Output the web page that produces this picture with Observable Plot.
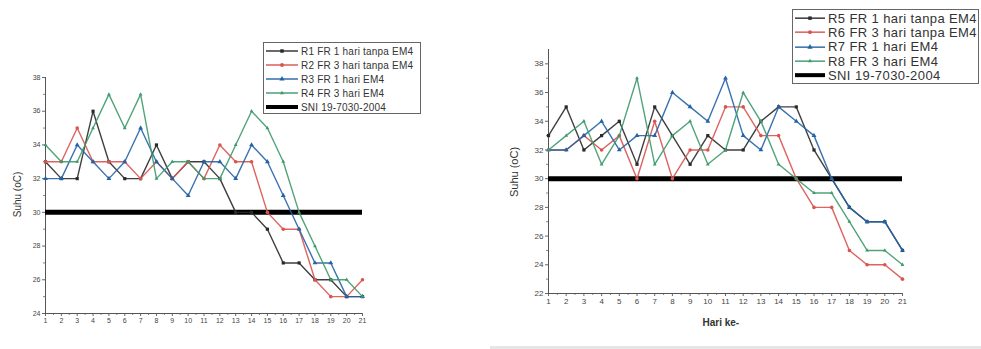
<!DOCTYPE html>
<html>
<head>
<meta charset="utf-8">
<script src="https://cdn.jsdelivr.net/npm/d3@7"></script>
<script src="https://cdn.jsdelivr.net/npm/@observablehq/plot@0.6"></script>
<style>
  html, body { margin: 0; padding: 0; background: #fff; }
  #wrap { position: relative; width: 981px; height: 349px; overflow: hidden; font-family: "Liberation Sans", Arial, sans-serif; }
  .panel { position: absolute; top: 0; }
  .legend { position: absolute; border: 1px solid #666; background: #fff; box-sizing: border-box; }
  .legend .row { display: flex; align-items: center; white-space: nowrap; color: #333; }
  .ylab { position: absolute; transform: rotate(-90deg); transform-origin: center; color: #333; white-space: nowrap; }
  .xlab { position: absolute; color: #333; white-space: nowrap; }
</style>
</head>
<body>
<div id="wrap"></div>
<script>
// ---- data ----
const days = [1,2,3,4,5,6,7,8,9,10,11,12,13,14,15,16,17,18,19,20,21];
const sniValue = 30;
const sniLabel = "SNI 19-7030-2004";

const leftNames  = ["R1 FR 1 hari tanpa EM4", "R2 FR 3 hari tanpa EM4", "R3 FR 1 hari EM4", "R4 FR 3 hari EM4"];
const r1 = [33,32,32,36,33,32,32,34,32,33,33,32,30,30,29,27,27,26,26,25,25];
const r2 = [33,33,35,33,33,33,32,33,32,33,32,34,33,33,30,29,29,26,25,25,26];
const r3 = [32,32,34,33,32,33,35,33,32,31,33,33,32,34,33,31,29,27,27,25,25];
const r4 = [34,33,33,35,37,35,37,32,33,33,32,32,34,36,35,33,30,28,26,26,25];

const rightNames = ["R5 FR 1 hari tanpa EM4", "R6 FR 3 hari tanpa EM4", "R7 FR 1 hari EM4", "R8 FR 3 hari EM4"];
const r5 = [33,35,32,33,34,31,35,33,31,33,32,32,34,35,35,32,30,28,27,27,25];
const r6 = [32,32,33,32,33,30,34,30,32,32,35,35,33,33,30,28,28,25,24,24,23];
const r7 = [32,32,33,34,32,33,33,36,35,34,37,33,32,35,34,33,30,28,27,27,25];
const r8 = [32,33,34,31,33,37,31,33,34,31,32,36,34,31,30,29,29,27,25,25,24];

const yTitle = "Suhu (oC)";
const xTitle = "Hari ke-";

// ---- styles ----
const colors = ["#2a2a2a", "#d9534f", "#2563a6", "#3d9a6c"];
const symbols = ["square", "circle", "triangle", "triangle2"];

function rows(values, name) {
  return days.map((d, i) => ({day: d, temp: values[i], name}));
}

function panel(opts) {
  const {seriesVals, names, yDomain, yTicks, width, height, mt, mb, ml, mr, fs} = opts;
  const marks = [];
  marks.push(Plot.ruleX([1], {y1: yDomain[0], y2: yDomain[1], stroke: "#555", strokeWidth: 1}));
  marks.push(Plot.ruleY([yDomain[0]], {x1: 1, x2: 21, stroke: "#555", strokeWidth: 1}));
  marks.push(Plot.ruleY([sniValue], {x1: days[0], x2: days[days.length - 1], stroke: "#000", strokeWidth: 5}));
  seriesVals.forEach((vals, k) => {
    const data = rows(vals, names[k]);
    marks.push(Plot.line(data, {x: "day", y: "temp", stroke: colors[k], strokeWidth: 1.4, strokeOpacity: 0.9}));
    marks.push(Plot.dot(data, {x: "day", y: "temp", fill: colors[k], stroke: "none", symbol: () => symbols[k], r: 1.8}));
  });
  return Plot.plot({
    width, height,
    marginTop: mt, marginBottom: mb, marginLeft: ml, marginRight: mr,
    style: {fontFamily: "Liberation Sans, Arial, sans-serif", background: "transparent"},
    x: {domain: [1, 21], axis: null},
    y: {domain: yDomain, axis: null},
    marks: [
      Plot.axisX({ticks: days, tickFormat: d => String(d), tickSize: 3, tickPadding: 2, fontSize: fs, stroke: "#666", fill: "#444", label: null}),
      Plot.axisX({ticks: days.slice(0, -1).map(d => d + 0.5), tickFormat: () => "", tickSize: 2, stroke: "#888", label: null}),
      Plot.axisY({ticks: yTicks, tickFormat: d => String(d), tickSize: 3, tickPadding: 2, fontSize: fs, stroke: "#666", fill: "#444", label: null}),
      Plot.axisY({ticks: yTicks.slice(0, -1).map(d => d + 1), tickFormat: () => "", tickSize: 2, stroke: "#888", label: null}),
      ...marks
    ]
  });
}

const wrap = document.getElementById("wrap");

function place(el, left, top) {
  el.classList.add("panel");
  el.style.left = left + "px";
  el.style.top = top + "px";
  wrap.appendChild(el);
}

const left = panel({
  seriesVals: [r1, r2, r3, r4], names: leftNames,
  yDomain: [24, 38], yTicks: [24,26,28,30,32,34,36,38],
  width: 390, height: 349, mt: 77, mb: 36, ml: 45, mr: 28, fs: 7
});
place(left, 0, 0);

const right = panel({
  seriesVals: [r5, r6, r7, r8], names: rightNames,
  yDomain: [22, 39], yTicks: [22,24,26,28,30,32,34,36,38],
  width: 491, height: 349, mt: 49, mb: 56, ml: 58, mr: 79, fs: 8
});
place(right, 490, 0);

function legend(names, x, y, w, h, rowH, fontSize, sampleW, pad, ls) {
  const box = document.createElement("div");
  box.className = "legend";
  Object.assign(box.style, {left: x + "px", top: y + "px", width: w + "px", height: h + "px", paddingTop: pad + "px", paddingLeft: "2px"});
  const all = names.map((n, k) => ({n, k})).concat([{n: sniLabel, k: -1}]);
  all.forEach(({n, k}) => {
    const row = document.createElement("div");
    row.className = "row";
    row.style.height = rowH + "px";
    row.style.fontSize = fontSize + "px";
    row.style.letterSpacing = ls + "px";
    const svg = d3.create("svg").attr("width", sampleW).attr("height", rowH).style("margin-right", "3px").style("flex", "none");
    if (k >= 0) {
      svg.append("line").attr("x1", 0).attr("x2", sampleW).attr("y1", rowH / 2).attr("y2", rowH / 2).attr("stroke", colors[k]).attr("stroke-width", 1.4);
      svg.append("path").attr("d", d3.symbol(k === 0 ? d3.symbolSquare : k === 1 ? d3.symbolCircle : k === 2 ? d3.symbolTriangle : d3.symbolTriangle2, 12)()).attr("transform", `translate(${sampleW / 2},${rowH / 2})`).attr("fill", colors[k]);
    } else {
      svg.append("line").attr("x1", 0).attr("x2", sampleW).attr("y1", rowH / 2).attr("y2", rowH / 2).attr("stroke", "#000").attr("stroke-width", 4);
    }
    row.appendChild(svg.node());
    const t = document.createElement("span");
    t.textContent = n;
    row.appendChild(t);
    box.appendChild(row);
  });
  wrap.appendChild(box);
}

legend(leftNames, 263, 42, 158, 72, 14, 10, 32, 1, 0.2);
legend(rightNames, 792, 9, 187, 75, 14.3, 13, 30, 1, 0.4);

function ylab(text, cx, cy, fs) {
  const d = document.createElement("div");
  d.className = "ylab";
  d.textContent = text;
  d.style.fontSize = fs + "px";
  wrap.appendChild(d);
  const w = d.offsetWidth, h = d.offsetHeight;
  d.style.left = (cx - w / 2) + "px";
  d.style.top = (cy - h / 2) + "px";
}
ylab(yTitle, 18, 194, 10);
ylab(yTitle, 514, 172, 11);

const xl = document.createElement("div");
xl.className = "xlab";
xl.textContent = xTitle;
xl.style.fontSize = "10px";
xl.style.fontWeight = "bold";
wrap.appendChild(xl);
xl.style.left = (721 - xl.offsetWidth / 2) + "px";
xl.style.top = (322 - xl.offsetHeight / 2) + "px";

const sep = document.createElement("div");
Object.assign(sep.style, {position: "absolute", left: "490px", top: "346px", width: "491px", height: "3px", background: "#e6e6e6"});
wrap.appendChild(sep);
</script>
</body>
</html>
